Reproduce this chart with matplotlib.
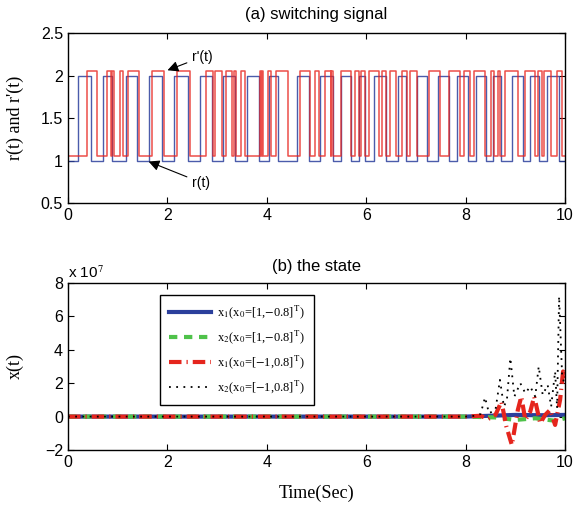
import numpy as np
import matplotlib
matplotlib.use('Agg')
from matplotlib import pyplot as plt

plt.rcParams['font.family'] = ['Liberation Sans', 'DejaVu Sans']
plt.rcParams['mathtext.fontset'] = 'stix'

# (a) switching signal: toggle times (blue starts low at 1, red starts low at 1.05)
r_toggles = [0.21, 0.46, 0.70, 0.89, 1.17, 1.39, 1.64, 1.90, 2.13, 2.41, 2.66, 2.89,
             3.11, 3.37, 3.60, 3.85, 4.04, 4.23, 4.60, 4.84, 5.07, 5.33, 5.49, 5.69,
             5.85, 5.98, 6.16, 6.40, 6.63, 6.81, 7.03, 7.22, 7.44, 7.67, 7.82, 8.05,
             8.20, 8.41, 8.55, 8.71, 8.93, 9.16, 9.30, 9.48, 9.63, 9.87]
rp_toggles = [0.39, 0.58, 0.78, 0.86, 0.89, 0.93, 1.04, 1.10, 1.20, 1.42, 1.70, 1.94,
              2.20, 2.46, 2.77, 2.92, 2.96, 3.10, 3.17, 3.29, 3.33, 3.38, 3.49, 3.56,
              3.86, 3.88, 3.90, 3.92, 4.03, 4.08, 4.19, 4.43, 4.67, 4.87, 4.97, 5.05,
              5.18, 5.29, 5.30, 5.33, 5.49, 5.69, 5.77, 5.86, 5.89, 5.97, 6.06, 6.26,
              6.32, 6.39, 6.48, 6.59, 6.71, 6.83, 6.88, 7.03, 7.26, 7.48, 7.66, 7.88,
              7.97, 8.08, 8.17, 8.38, 8.52, 8.57, 8.65, 8.69, 8.79, 9.05, 9.20, 9.40,
              9.46, 9.54, 9.58, 9.72, 9.83, 9.94]
r_levels = [1.0, 2.0]
rp_levels = [1.05, 2.05]
top_yticks = [0.5, 1, 1.5, 2, 2.5]
top_yticklabels = ['0.5', '1', '1.5', '2', '2.5']

# (b) the state, values in units of 1e7
blue_t = [0, 8.0, 8.5, 9.0, 9.5, 10.0]
blue_v = [0, 0, 0.05, 0.1, 0.08, 0.1]
green_t = [0, 8.0, 8.6, 9.0, 9.4, 9.8, 10.0]
green_v = [0, 0, -0.05, -0.2, -0.1, -0.25, -0.1]
red_t = [0, 8.0, 8.3, 8.45, 8.6, 8.72, 8.82, 8.93, 9.05, 9.12, 9.2, 9.3, 9.38, 9.5,
         9.6, 9.7, 9.8, 9.9, 9.96, 10.0]
red_v = [0, 0, 0.05, -0.15, 0.1, 0.9, -0.6, -1.7, 0.4, 1.2, -0.2, 0.3, 1.2, -0.4,
         0.1, 0.4, -0.5, 1.0, 2.7, 2.0]
black_t = [0, 8.0, 8.2, 8.3, 8.39, 8.47, 8.6, 8.69, 8.77, 8.83, 8.9, 8.98, 9.1, 9.2,
           9.3, 9.4, 9.47, 9.55, 9.65, 9.72, 9.8, 9.84, 9.88, 9.94, 10.0]
black_v = [0, 0, 0.05, 0.15, 1.15, 0.2, 0.4, 2.2, 0.6, 1.0, 3.5, 1.2, 2.0, 1.4, 1.8,
           1.2, 3.0, 1.3, 1.9, 0.6, 2.7, 0.5, 7.2, 2.5, 1.8]
bot_yticks = [-2, 0, 2, 4, 6, 8]
bot_yticklabels = ['\u22122', '0', '2', '4', '6', '8']


def step_xy(toggles, levels):
    t = [0.0] + list(toggles) + [10.0]
    v = [levels[i % 2] for i in range(len(t) - 1)]
    v.append(v[-1])
    return t, v


fig = plt.figure(figsize=(5.78, 5.08), dpi=100)
ax1 = fig.add_axes([0.1176, 0.6004, 0.86, 0.3346])
ax2 = fig.add_axes([0.1176, 0.1142, 0.86, 0.3287])

t, v = step_xy(r_toggles, r_levels)
ax1.step(t, v, where='post', color='#2b3f9c', lw=1.0, alpha=0.85)
t, v = step_xy(rp_toggles, rp_levels)
ax1.step(t, v, where='post', color='#e8221c', lw=1.1, alpha=0.8)

ax1.set_xlim(0, 10)
ax1.set_ylim(0.5, 2.5)
ax1.set_xticks([0, 2, 4, 6, 8, 10])
ax1.set_yticks(top_yticks)
ax1.set_yticklabels(top_yticklabels)
ax1.set_title('(a) switching signal', fontsize=12, pad=10)
ax1.set_ylabel("r(t) and r'(t)", family='Liberation Serif', fontsize=13)
ax1.yaxis.set_label_coords(-0.088, 0.5)

arrow = dict(arrowstyle='-|>', color='k', lw=0.8, mutation_scale=16)
ax1.annotate("r'(t)", xy=(1.95, 2.05), xytext=(2.5, 2.22), fontsize=10,
             va='center', arrowprops=arrow)
ax1.annotate("r(t)", xy=(1.57, 1.0), xytext=(2.5, 0.74), fontsize=10,
             va='center', arrowprops=arrow)

ax2.plot(blue_t, blue_v, color='#2b3f9c', lw=3,
         label=r'x$_1$(x$_0$=[1,$-$0.8]$^{\mathrm{T}}$)')
ax2.plot(green_t, green_v, color='#4fc24a', lw=3, dashes=(2.0, 1.6),
         label=r'x$_2$(x$_0$=[1,$-$0.8]$^{\mathrm{T}}$)')
ax2.plot(red_t, red_v, color='#e5251d', lw=3, dashes=(3.0, 1.2, 0.3, 1.2),
         label=r'x$_1$(x$_0$=[$-$1,0.8]$^{\mathrm{T}}$)')
ax2.plot(black_t, black_v, color='k', lw=1.3, linestyle=(0, (1, 3)),
         label=r'x$_2$(x$_0$=[$-$1,0.8]$^{\mathrm{T}}$)')

ax2.set_xlim(0, 10)
ax2.set_ylim(-2, 8)
ax2.set_xticks([0, 2, 4, 6, 8, 10])
ax2.set_yticks(bot_yticks)
ax2.set_yticklabels(bot_yticklabels)
ax2.set_title('(b) the state', fontsize=12, pad=9)
ax2.set_ylabel('x(t)', family='Liberation Serif', fontsize=13)
ax2.yaxis.set_label_coords(-0.088, 0.5)
ax2.set_xlabel('Time(Sec)', family='Liberation Serif', fontsize=13, labelpad=11)
ax2.text(0.0, 1.015, r'x 10$^7$', transform=ax2.transAxes, fontsize=11,
         family='Liberation Sans', va='bottom')

leg = ax2.legend(loc='upper left', bbox_to_anchor=(0.185, 0.93), fancybox=False,
                 edgecolor='k', framealpha=1, handlelength=3.4,
                 prop={'family': 'Liberation Serif', 'size': 9},
                 borderpad=0.7, labelspacing=0.6, handletextpad=0.5,
                 borderaxespad=0)
leg.get_frame().set_linewidth(1.0)

for ax in (ax1, ax2):
    ax.tick_params(direction='in', top=True, right=True, labelsize=11.5, length=4)
    for s in ax.spines.values():
        s.set_linewidth(1.0)

fig.savefig('out.png', dpi=100)
